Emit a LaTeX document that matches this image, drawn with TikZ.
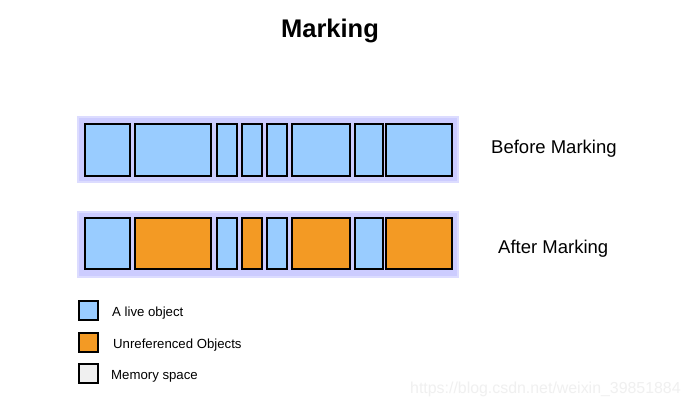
\documentclass[tikz,border=0pt]{standalone}
\usepackage{fontspec}
\setmainfont{Liberation Sans}
\definecolor{live}{HTML}{99CCFF}
\definecolor{unref}{HTML}{F39A24}
\definecolor{bar}{HTML}{CCCCFF}
\definecolor{barline}{HTML}{DCDCFF}
\definecolor{mem}{HTML}{F0F0F0}
\definecolor{wm}{HTML}{F0F0F0}
\begin{document}
\begin{tikzpicture}[x=1pt,y=-1pt,
  barbox/.style={fill=bar,draw=barline,line width=1.5pt},
  obj/.style={draw=black,line width=2pt},
  lbl/.style={font=\fontsize{18.5}{20}\selectfont,anchor=west,inner sep=0pt},
  legtxt/.style={font=\fontsize{13.2}{15}\selectfont,anchor=west,inner sep=0pt}]
\useasboundingbox (0,0) rectangle (691,409);
\fill[white] (0,0) rectangle (691,409);
\node[font=\bfseries\fontsize{25.5}{28}\selectfont] (title) at (330,31) {Marking};
% bar 1
\draw[barbox] (78,117) rectangle (458,182);
\foreach \a/\b [count=\i] in {85/130,135/211,217/237,242/262,267/287,292/350,355/383,386/452}{
  \draw[obj,fill=live] (\a,124) rectangle (\b,176);
}
\node[lbl] (before) at (491,148.5) {Before Marking};
% bar 2
\draw[barbox] (78,212) rectangle (458,277);
\foreach \a/\b/\c in {85/130/live,135/211/unref,217/237/live,242/262/unref,267/287/live,292/350/unref,355/383/live,386/452/unref}{
  \draw[obj,fill=\c] (\a,218) rectangle (\b,269);
}
\node[lbl] (after) at (498,248.5) {After Marking};
% legend
\draw[obj,fill=live] (79,301) rectangle (98,320);
\node[legtxt] (l1) at (112,313.5) {A live object};
\draw[obj,fill=unref] (79,333) rectangle (98,352);
\node[legtxt] (l2) at (113,345.5) {Unreferenced Objects};
\draw[obj,fill=mem] (79,364) rectangle (98,383);
\node[legtxt] (l3) at (111,376.5) {Memory space};
\node[font=\fontsize{15.9}{17}\selectfont,text=wm,anchor=west,inner sep=0pt] (wmk) at (410,389) {https://blog.csdn.net/weixin\_39851884};
\end{tikzpicture}
\end{document}
